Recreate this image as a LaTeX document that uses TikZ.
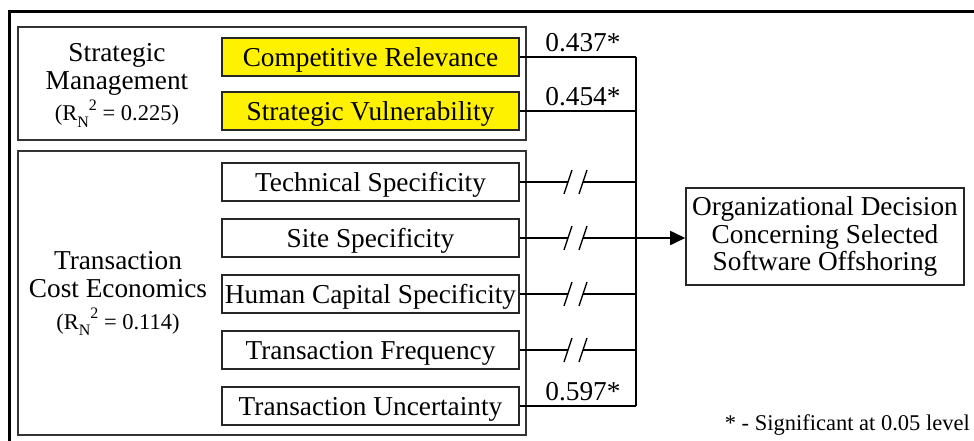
\documentclass[tikz,border=0pt]{standalone}
\usepackage{fontspec}
\setmainfont{Liberation Serif}
\usetikzlibrary{arrows.meta}
\newcommand\rnsq{R\raisebox{-0.28em}{\fontsize{16}{16}\selectfont N}\raisebox{0.45em}{\fontsize{16}{16}\selectfont 2}}
\begin{document}
\begin{tikzpicture}[x=1pt,y=-1pt,
  box/.style={draw=black!85, line width=1.6pt, minimum width=297pt, minimum height=38pt, inner sep=0pt, text height=18.5pt, text depth=0pt, font=\fontsize{27.3}{28}\selectfont},
  hl/.style={box, fill=yellow},
  grp/.style={draw=black!80, line width=1.6pt, inner sep=0pt, anchor=north west},
  wire/.style={line width=1.4pt},
  lbl/.style={font=\fontsize{27.3}{28}\selectfont, inner sep=0pt, anchor=base},
  rlbl/.style={font=\fontsize{22.5}{23}\selectfont, inner sep=0pt, anchor=base},
  ]
\useasboundingbox (0,0) rectangle (974,441);
\draw[line width=3pt] (9,445) -- (9,12) -- (980,12);
% groups
\node[grp, minimum width=508pt, minimum height=113pt] (smgrp) at (17,26) {};
\node[grp, minimum width=508pt, minimum height=284pt] (tcgrp) at (17,150) {};
% group labels
\node[lbl] (sm1) at (117,62) {Strategic};
\node[lbl] (sm2) at (117,90) {Management};
\node[rlbl] (sm3) at (117,121) {(\rnsq{} = 0.225)};
\node[lbl] (tc1) at (118,269) {Transaction};
\node[lbl] (tc2) at (118,297) {Cost Economics};
\node[rlbl] (tc3) at (118,329) {(\rnsq{} = 0.114)};
% factor boxes
\node[hl] (cr) at (370.5,57) {Competitive Relevance};
\node[hl] (sv) at (370.5,111) {Strategic Vulnerability};
\node[box] (ts) at (370.5,182) {Technical Specificity};
\node[box] (ss) at (370.5,238) {Site Specificity};
\node[box] (hc) at (370.5,294) {Human Capital Specificity};
\node[box] (tf) at (370.5,350) {Transaction Frequency};
\node[box] (tu) at (370.5,406) {Transaction Uncertainty};
% outcome
\node[draw=black!85, line width=1.6pt, minimum width=278pt, minimum height=97pt, inner sep=0pt, align=center, font=\fontsize{27.3}{27.5}\selectfont] (out) at (825,236.5) {Organizational Decision\\Concerning Selected\\Software Offshoring};
% junctions on bus
\coordinate (j1) at (636,57);
\coordinate (j2) at (636,111);
\coordinate (j7) at (636,406);
\draw[wire] (cr.east) -- (j1);
\draw[wire] (sv.east) -- (j2);
\draw[wire] (tu.east) -- (j7);
\draw[wire] (j1) -- (j7);
% non-significant paths, broken by a double slash
\foreach \n/\y in {ts/182,ss/238,hc/294,tf/350}{
  \coordinate (\n-a) at (568,\y);
  \coordinate (\n-b) at (583,\y);
  \coordinate (\n-j) at (636,\y);
  \draw[wire] (\n.east) -- (\n-a);
  \draw[wire] (\n-b) -- (\n-j);
  \draw[wire] (\n-a) ++(-4,12) -- ++(8,-24);
  \draw[wire] (\n-b) ++(-4,12) -- ++(8,-24);
}
\draw[line width=1.8pt, -{Triangle[length=15pt,width=14pt]}] (ss-j) -- (ss-j -| out.west);
% coefficients
\node[lbl] (c1) at (583,52) {0.437*};
\node[lbl] (c2) at (583,106) {0.454*};
\node[lbl] (c3) at (583,400) {0.597*};
\node[font=\fontsize{22.5}{24}\selectfont, inner sep=0pt, anchor=base east] (fn) at (970,430) {* - Significant at 0.05 level};
\end{tikzpicture}
\end{document}
